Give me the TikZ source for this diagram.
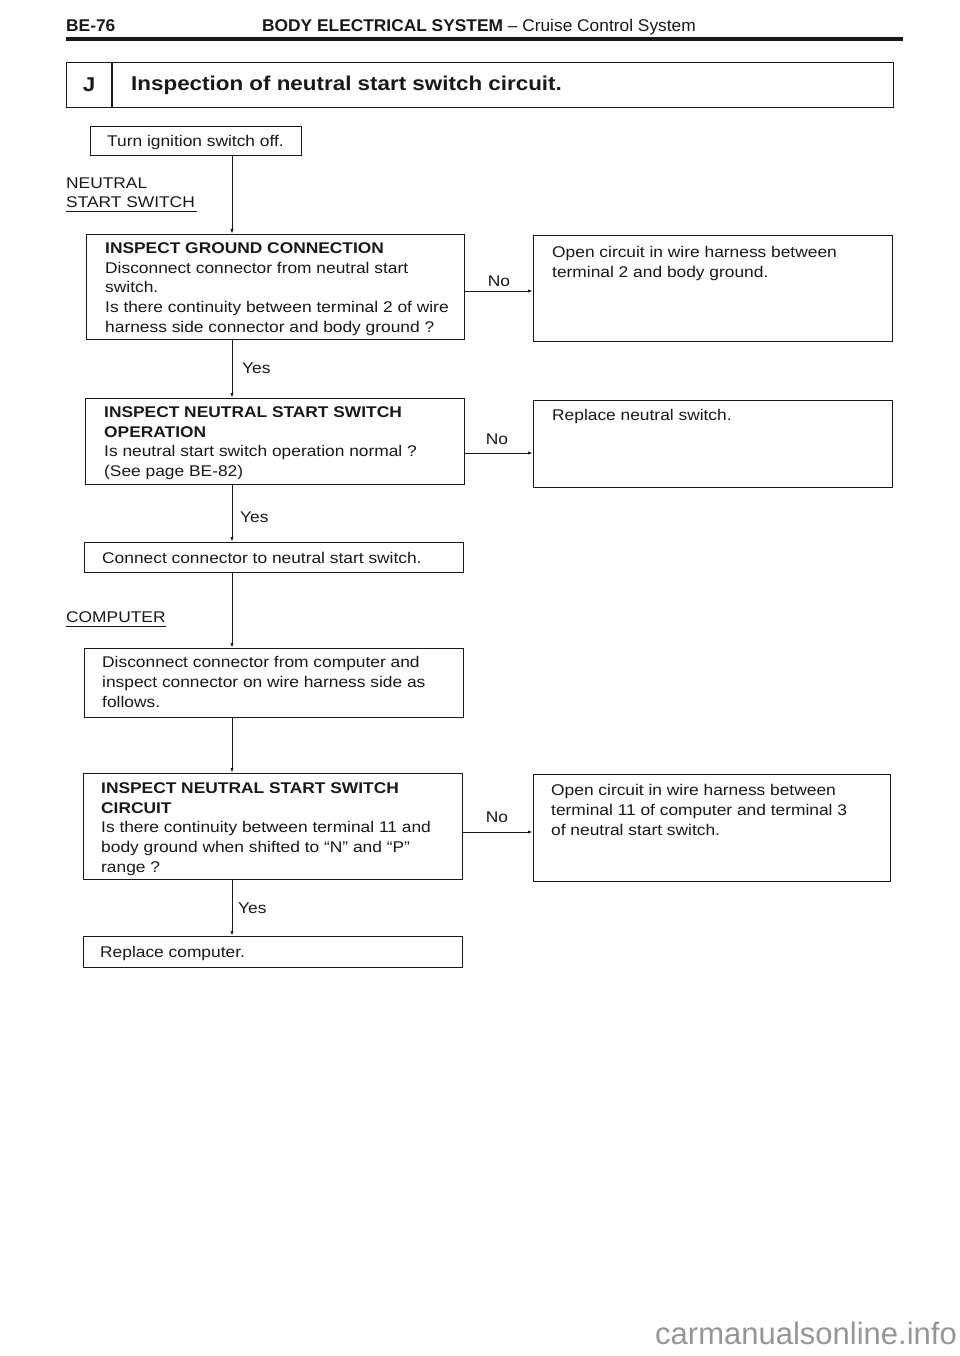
\documentclass[tikz,border=0pt]{standalone}
\usepackage{fontspec}
\setmainfont{Liberation Sans}[FakeStretch=1.12]
\newfontfamily\hdfont[FakeStretch=1.02]{Liberation Sans}
\newfontfamily\wmfont{Liberation Sans}
\usetikzlibrary{arrows.meta}
\definecolor{ink}{RGB}{25,25,25}
\definecolor{wm}{RGB}{150,150,150}
\tikzset{
  boxr/.style={draw=ink, line width=1.3pt, inner sep=0pt, anchor=north west},
  txt/.style={anchor=north west, inner sep=0pt, align=left, text=ink,
    font=\fontsize{15.5}{19.7}\selectfont},
  lbl/.style={inner sep=0pt, text=ink, font=\fontsize{15.5}{18}\selectfont},
  conn/.style={draw=ink, line width=1pt, -{Latex[length=5pt,width=3.2pt]}},
  plain/.style={draw=ink, line width=1pt}
}
\begin{document}
\begin{tikzpicture}[x=1pt,y=-1pt]
\useasboundingbox (0,0) rectangle (960,1356);
\fill[white] (0,0) rectangle (960,1356);

% header
\node[anchor=west, inner sep=0pt, text=ink, font=\hdfont\bfseries\fontsize{17}{20}\selectfont] (pg) at (66,26) {BE-76};
\node[anchor=west, inner sep=0pt, text=ink, font=\hdfont\fontsize{17}{20}\selectfont] (hd) at (262,27) {\bfseries BODY ELECTRICAL SYSTEM\mdseries\ \textendash\ Cruise Control System};
\coordinate (rl) at (66,39);
\coordinate (rr) at (903,39);
\draw[ink, line width=3.5pt] (rl) -- (rr);

% title box
\node[boxr, minimum width=827pt, minimum height=45pt] (jbox) at (66,62) {};
\coordinate (jdiv) at (112,0);
\draw[ink, line width=1.3pt] (jbox.north -| jdiv) -- (jbox.south -| jdiv);
\node[inner sep=0pt, text=ink, font=\bfseries\fontsize{20}{22}\selectfont] (jl) at (89,85) {J};
\node[anchor=west, inner sep=0pt, text=ink, font=\bfseries\fontsize{20}{22}\selectfont] (jt) at (131,85) {Inspection of neutral start switch circuit.};

\coordinate (col) at (232,0);

% turn ignition
\node[boxr, minimum width=211pt, minimum height=29pt] (tb) at (90,126) {};
\node[txt] (tbt) at (107,135.3) {Turn ignition switch off.};

% neutral start switch label
\node[txt] (nss) at (66,177.3) {NEUTRAL\\START SWITCH};
\coordinate (u1a) at (66,212);
\coordinate (u1b) at (197,212);
\draw[plain] (u1a) -- (u1b);

% box 1
\node[boxr, minimum width=378pt, minimum height=105pt] (b1) at (86,234) {};
\node[txt] (b1t) at (105,242.3) {\textbf{INSPECT GROUND CONNECTION}\\Disconnect connector from neutral start\\switch.\\Is there continuity between terminal 2 of wire\\harness side connector and body ground ?};
\node[boxr, minimum width=359pt, minimum height=106pt] (r1) at (533,235) {};
\node[txt] (r1t) at (552,246.3) {Open circuit in wire harness between\\terminal 2 and body ground.};

% box 2
\node[boxr, minimum width=379pt, minimum height=86pt] (b2) at (85,398) {};
\node[txt] (b2t) at (104,406.3) {\textbf{INSPECT NEUTRAL START SWITCH}\\\textbf{OPERATION}\\Is neutral start switch operation normal ?\\(See page BE-82)};
\node[boxr, minimum width=359pt, minimum height=87pt] (r2) at (533,400) {};
\node[txt] (r2t) at (552,409.3) {Replace neutral switch.};

% connect box
\node[boxr, minimum width=379pt, minimum height=30pt] (cb) at (84,542) {};
\node[txt] (cbt) at (102,552.3) {Connect connector to neutral start switch.};

% computer label
\node[txt] (cpl) at (66,611.3) {COMPUTER};
\coordinate (u2a) at (66,626);
\coordinate (u2b) at (166,626);
\draw[plain] (u2a) -- (u2b);

% disconnect box
\node[boxr, minimum width=379pt, minimum height=69pt] (db) at (84,648) {};
\node[txt] (dbt) at (102,656.3) {Disconnect connector from computer and\\inspect connector on wire harness side as\\follows.};

% box 3
\node[boxr, minimum width=379pt, minimum height=106pt] (b3) at (83,773) {};
\node[txt] (b3t) at (101,782.3) {\textbf{INSPECT NEUTRAL START SWITCH}\\\textbf{CIRCUIT}\\Is there continuity between terminal 11 and\\body ground when shifted to ``N'' and ``P''\\range ?};
\node[boxr, minimum width=357pt, minimum height=107pt] (r3) at (533,774) {};
\node[txt] (r3t) at (551,784.3) {Open circuit in wire harness between\\terminal 11 of computer and terminal 3\\of neutral start switch.};

% replace computer
\node[boxr, minimum width=379pt, minimum height=31pt] (rc) at (83,936) {};
\node[txt] (rct) at (100,946.3) {Replace computer.};

% vertical connectors
\draw[conn] (tb.south -| col) -- (b1.north -| col);
\draw[conn] (b1.south -| col) -- (b2.north -| col);
\draw[conn] (b2.south -| col) -- (cb.north -| col);
\draw[conn] (cb.south -| col) -- (db.north -| col);
\draw[conn] (db.south -| col) -- (b3.north -| col);
\draw[conn] (b3.south -| col) -- (rc.north -| col);

% horizontal connectors
\coordinate (n1) at (0,291);
\coordinate (n2) at (0,453);
\coordinate (n3) at (0,832);
\draw[conn] (b1.east |- n1) -- (r1.west |- n1);
\draw[conn] (b2.east |- n2) -- (r2.west |- n2);
\draw[conn] (b3.east |- n3) -- (r3.west |- n3);

% labels
\node[lbl] (no1) at (499,281) {No};
\node[lbl] (no2) at (497,439) {No};
\node[lbl] (no3) at (497,817) {No};
\node[lbl, anchor=west] (y1) at (242,368) {Yes};
\node[lbl, anchor=west] (y2) at (240,517) {Yes};
\node[lbl, anchor=west] (y3) at (238,908) {Yes};

% watermark
\node[anchor=east, inner sep=0pt, text=wm, font=\wmfont\fontsize{31}{34}\selectfont] (wmk) at (957,1333) {carmanualsonline.info};
\end{tikzpicture}
\end{document}
